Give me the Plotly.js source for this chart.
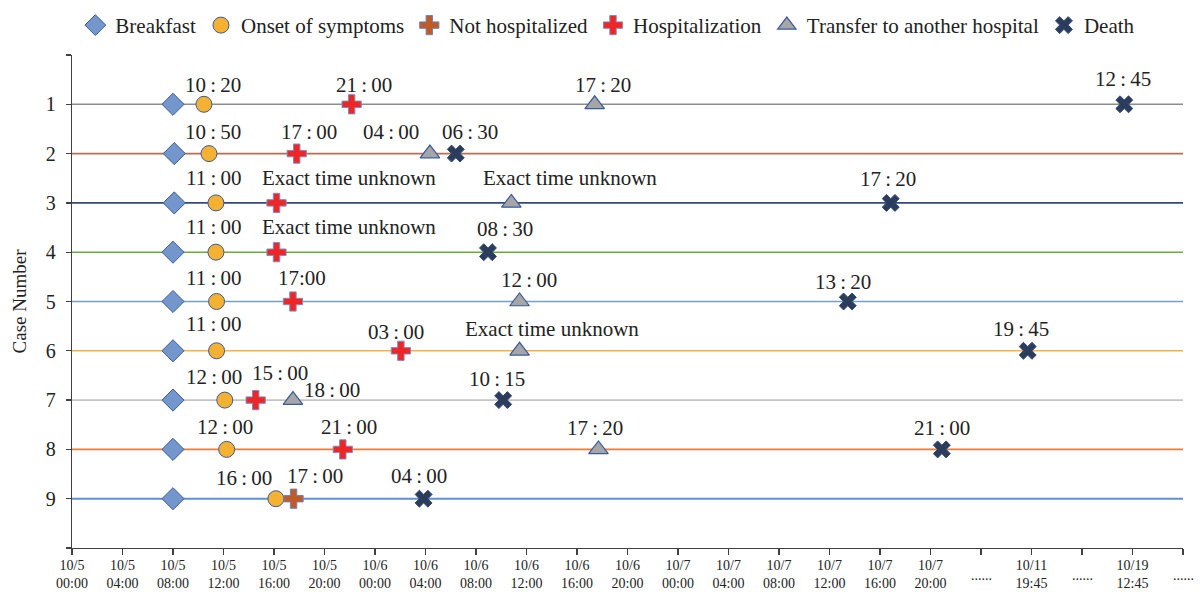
<!DOCTYPE html>
<html>
<head>
<meta charset="utf-8">
<script src="https://cdn.plot.ly/plotly-3.0.1.min.js"></script>
<style>html,body{margin:0;padding:0;background:#fff;}#chart{width:1203px;height:592px;}</style>
</head>
<body>
<div id="chart"></div>
<script>
// ---------- data (x = hours since 10/5 00:00 on the chart's time scale) ----------
const caseNumbers = [1, 2, 3, 4, 5, 6, 7, 8, 9];

const breakfastCase = [1, 2, 3, 4, 5, 6, 7, 8, 9];
const breakfastX    = [8.0, 8.1, 8.1, 8.0, 8.0, 8.0, 8.0, 8.0, 8.0];

const onsetCase = [1, 2, 3, 4, 5, 6, 7, 8, 9];
const onsetX    = [10.45, 10.85, 11.4, 11.4, 11.45, 11.45, 12.1, 12.25, 16.15];

const notHospCase = [9];
const notHospX    = [17.55];

const hospCase = [1, 2, 3, 4, 5, 6, 7, 8];
const hospX    = [22.15, 17.8, 16.2, 16.2, 17.5, 26.05, 14.55, 21.45];

const transferCase = [1, 2, 3, 5, 6, 7, 8];
const transferX    = [41.4, 28.35, 34.8, 35.45, 35.45, 17.5, 41.7];

const deathCase = [1, 2, 3, 4, 5, 6, 7, 8, 9];
const deathX    = [83.35, 30.4, 64.85, 32.95, 61.45, 75.7, 34.15, 68.9, 27.85];

// point labels
const labelCase = [1,1,1,1, 2,2,2,2, 3,3,3,3, 4,4,4, 5,5,5,5, 6,6,6,6, 7,7,7,7, 8,8,8,8, 9,9,9];
const labelX = [11.2, 23.15, 42.05, 83.25,
                11.2, 18.8, 25.25, 31.5,
                11.2, 21.95, 39.45, 64.65,
                11.2, 21.95, 34.3,
                11.2, 18.2, 36.2, 61.1,
                11.2, 25.65, 38.05, 75.2,
                11.25, 16.45, 20.6, 33.7,
                12.1, 21.95, 41.4, 68.95,
                13.6, 19.25, 27.5];
const labelText = ['10：20', '21：00', '17：20', '12：45',
                   '10：50', '17：00', '04：00', '06：30',
                   '11：00', 'Exact time unknown', 'Exact time unknown', '17：20',
                   '11：00', 'Exact time unknown', '08：30',
                   '11：00', '17:00', '12：00', '13：20',
                   '11：00', '03：00', 'Exact time unknown', '19：45',
                   '12：00', '15：00', '18：00', '10：15',
                   '12：00', '21：00', '17：20', '21：00',
                   '16：00', '17：00', '04：00'];

// axis ticks
const xTickVals = [0,4,8,12,16,20,24,28,32,36,40,44,48,52,56,60,64,68,72,76,80,84,88];
const xTickText = ['10/5<br>00:00','10/5<br>04:00','10/5<br>08:00','10/5<br>12:00','10/5<br>16:00','10/5<br>20:00',
                   '10/6<br>00:00','10/6<br>04:00','10/6<br>08:00','10/6<br>12:00','10/6<br>16:00','10/6<br>20:00',
                   '10/7<br>00:00','10/7<br>04:00','10/7<br>08:00','10/7<br>12:00','10/7<br>16:00','10/7<br>20:00',
                   '......','10/11<br>19:45','......','10/19<br>12:45','......'];
const yTickVals = [0,1,2,3,4,5,6,7,8,9,10];
const yTickText = ['','1','2','3','4','5','6','7','8','9',''];

// ---------- styles ----------
const labelLift = [19,19,19,25, 22,22,22,22, 25,25,25,24, 25,25,23, 24,24,22,20, 27,19,22,22, 23,27,10,21, 22,22,21,21, 21,23,23];
const lineColors = ['#8c8c8c','#b86d52','#34487c','#6dab3e','#6f9fd4','#f4b144','#c4c4c4','#ee7b34','#5f90d6'];
const serif = 'Liberation Serif, Times New Roman, serif';
const outline = '#3b5a98';

function fmt(s){ return s.replace(/：/g, '\u2009:\u2009'); }

const traces = [
  {name:'Breakfast', x:breakfastX, y:breakfastCase, type:'scatter', mode:'markers',
   marker:{symbol:'diamond', size:17, color:'#7397cc', line:{color:outline, width:1}}},
  {name:'Onset of symptoms', x:onsetX, y:onsetCase, type:'scatter', mode:'markers',
   marker:{symbol:'circle', size:16, color:'#f5b232', line:{color:outline, width:1}}},
  {name:'Not hospitalized', x:notHospX, y:notHospCase, type:'scatter', mode:'markers',
   marker:{symbol:'cross', size:16, color:'#bf5a2a', line:{color:'#6f83b5', width:1}}},
  {name:'Hospitalization', x:hospX, y:hospCase, type:'scatter', mode:'markers',
   marker:{symbol:'cross', size:16, color:'#ee2626', line:{color:'#7d8cc4', width:1}}},
  {name:'Transfer to another hospital', x:transferX, y:transferCase, type:'scatter', mode:'markers',
   marker:{symbol:'triangle-up', size:17, color:'#a6a6a8', line:{color:outline, width:1.2}}},
  {name:'Death', x:deathX, y:deathCase, type:'scatter', mode:'markers',
   marker:{symbol:'x', size:15, color:'#2c3c5c', line:{color:'#344a72', width:1}}}
];

const shapes = caseNumbers.map((c, i) => ({
  type:'line', xref:'paper', x0:0, x1:1, yref:'y', y0:c, y1:c, layer:'below',
  line:{color:lineColors[i], width: (i === 8 ? 2 : 1.6)}
}));

const annotations = labelText.map((t, i) => ({
  x: labelX[i], y: labelCase[i], xref:'x', yref:'y', text: fmt(t), showarrow:false,
  xanchor:'center', yanchor:'middle',
  yshift: labelLift[i], font:{family:serif, size:21, color:'#222'}
}));

// dotted gap labels on the x axis, centred between the two label lines
const tickFontSize = 14;
xTickText.forEach((t, i) => {
  if (t === '......') {
    annotations.push({x:xTickVals[i], y:0, xref:'x', yref:'paper', xanchor:'center', yanchor:'middle',
      yshift:-27, text:t, showarrow:false, font:{family:serif, size:tickFontSize, color:'#222'}});
  }
});

const layout = {
  width:1203, height:592,
  margin:{l:72, r:20, t:55, b:44, autoexpand:false},
  paper_bgcolor:'#fff', plot_bgcolor:'#fff',
  font:{family:serif, color:'#222'},
  showlegend:true,
  legend:{orientation:'h', x:0.003, xanchor:'left', yref:'container', y:0.957, yanchor:'middle',
          font:{family:serif, size:21, color:'#222'}, bgcolor:'rgba(0,0,0,0)', itemsizing:'trace'},
  xaxis:{range:[0, 88], tickmode:'array', tickvals:xTickVals,
         ticktext:xTickText.map(t => t === '......' ? '' : t),
         showgrid:false, zeroline:false, showline:true, linecolor:'#404040', linewidth:1.3,
         ticks:'outside', ticklen:6, tickcolor:'#404040', tickwidth:1.3, ticklabelstandoff:-2,
         tickfont:{family:serif, size:tickFontSize, color:'#222'}},
  yaxis:{range:[10, 0], tickmode:'array', tickvals:yTickVals, ticktext:yTickText,
         showgrid:false, zeroline:false, showline:true, linecolor:'#404040', linewidth:1.3,
         ticks:'outside', ticklen:5, tickcolor:'#404040', tickwidth:1.3, ticklabelstandoff:6,
         tickfont:{family:serif, size:20, color:'#222'},
         title:{text:'Case Number', font:{family:serif, size:19, color:'#222'}, standoff:14}},
  shapes:shapes,
  annotations:annotations
};

Plotly.newPlot('chart', traces, layout, {displayModeBar:false, staticPlot:true});
</script>
</body>
</html>
